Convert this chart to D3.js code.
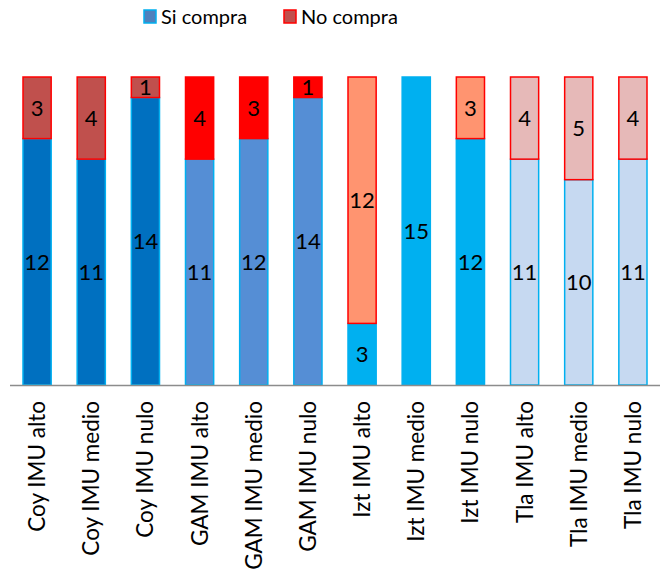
<!DOCTYPE html>
<html>
<head>
<meta charset="utf-8">
<script src="https://cdn.jsdelivr.net/npm/d3@7"></script>
<style>
  body { margin: 0; background: #fff; }
  text { font-family: Lato, "Open Sans", sans-serif; }
</style>
</head>
<body>
<svg id="chart" width="662" height="588"></svg>
<script>
// datos
const categories = ['Coy IMU alto', 'Coy IMU medio', 'Coy IMU nulo',
  'GAM IMU alto', 'GAM IMU medio', 'GAM IMU nulo',
  'Izt IMU alto', 'Izt IMU medio', 'Izt IMU nulo',
  'Tla IMU alto', 'Tla IMU medio', 'Tla IMU nulo'];
const siCompra = [12, 11, 14, 11, 12, 14, 3, 15, 12, 11, 10, 11];
const noCompra = [3, 4, 1, 4, 3, 1, 12, 0, 3, 4, 5, 4];
const seriesNames = ['Si compra', 'No compra'];

// colores por alcaldía
const siColors = ['#0070C0', '#0070C0', '#0070C0', '#558ED5', '#558ED5', '#558ED5',
  '#00B0F0', '#00B0F0', '#00B0F0', '#C6D9F1', '#C6D9F1', '#C6D9F1'];
const noColors = ['#C0504D', '#C0504D', '#C0504D', '#FF0000', '#FF0000', '#FF0000',
  '#FF9470', '#FF9470', '#FF9470', '#E6B9B8', '#E6B9B8', '#E6B9B8'];

const svg = d3.select('#chart');
const margin = { top: 77, left: 10, right: 2, bottom: 203 };
const width = 662 - margin.left - margin.right;
const height = 588 - margin.top - margin.bottom;

const x = d3.scaleBand().domain(categories).range([margin.left, margin.left + width]).paddingInner(0.48).paddingOuter(0.24);
const y = d3.scaleLinear().domain([0, 15]).range([margin.top + height, margin.top]);

const rows = categories.map((c, i) => ({ cat: c, si: siCompra[i], no: noCompra[i], i }));

const g = svg.append('g');

// barras Si compra
g.selectAll('rect.si')
  .data(rows)
  .enter()
  .append('rect')
  .attr('class', 'si')
  .attr('x', d => x(d.cat))
  .attr('width', x.bandwidth())
  .attr('y', d => y(d.si))
  .attr('height', d => y(0) - y(d.si))
  .attr('fill', d => siColors[d.i])
  .attr('stroke', '#00B0F0')
  .attr('stroke-width', 1.5);

// barras No compra
g.selectAll('rect.no')
  .data(rows.filter(d => d.no > 0))
  .enter()
  .append('rect')
  .attr('class', 'no')
  .attr('x', d => x(d.cat))
  .attr('width', x.bandwidth())
  .attr('y', d => y(d.si + d.no))
  .attr('height', d => y(d.si) - y(d.si + d.no))
  .attr('fill', d => noColors[d.i])
  .attr('stroke', '#FF0000')
  .attr('stroke-width', 1.5);

// etiquetas de valores
g.selectAll('text.vsi')
  .data(rows.filter(d => d.si > 0))
  .enter()
  .append('text')
  .attr('x', d => x(d.cat) + x.bandwidth() / 2)
  .attr('y', d => y(d.si / 2))
  .attr('dy', '0.35em')
  .attr('text-anchor', 'middle')
  .style('font-size', '22px')
  .style('fill', '#000')
  .text(d => d.si);

g.selectAll('text.vno')
  .data(rows.filter(d => d.no > 0))
  .enter()
  .append('text')
  .attr('x', d => x(d.cat) + x.bandwidth() / 2)
  .attr('y', d => y(d.si + d.no / 2))
  .attr('dy', '0.35em')
  .attr('text-anchor', 'middle')
  .style('font-size', '22px')
  .style('fill', '#000')
  .text(d => d.no);

// eje x
svg.append('line')
  .attr('x1', margin.left)
  .attr('x2', margin.left + width)
  .attr('y1', y(0) + 0.5)
  .attr('y2', y(0) + 0.5)
  .attr('stroke', '#8C8C8C')
  .attr('stroke-width', 1.5);

svg.selectAll('text.cat')
  .data(categories)
  .enter()
  .append('text')
  .attr('transform', d => `translate(${x(d) + x.bandwidth() / 2 + 8},${y(0) + 16}) rotate(-90)`)
  .attr('text-anchor', 'end')
  .style('font-size', '22.5px')
  .style('fill', '#000')
  .text(d => d);

// leyenda
const legend = svg.append('g');
const legendX = [144, 284];
const legendFill = ['#4F81BD', '#C0504D'];
const legendStroke = ['#00B0F0', '#FF0000'];
seriesNames.forEach((name, i) => {
  legend.append('rect')
    .attr('x', legendX[i])
    .attr('y', 10)
    .attr('width', 12)
    .attr('height', 13)
    .attr('fill', legendFill[i])
    .attr('stroke', legendStroke[i])
    .attr('stroke-width', 1.5);
  legend.append('text')
    .attr('x', legendX[i] + 17)
    .attr('y', 24)
    .style('font-size', '20px')
    .style('fill', '#000')
    .text(name);
});
</script>
</body>
</html>
